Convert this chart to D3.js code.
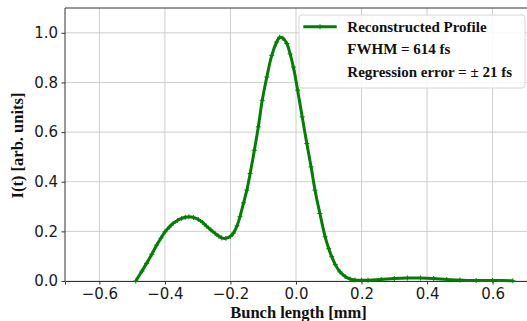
<!DOCTYPE html>
<html><head><meta charset="utf-8">
<script src="https://cdn.jsdelivr.net/npm/d3@7"></script>
<style>body{margin:0;background:#fff;}svg{display:block;}</style>
</head><body>
<svg id="chart" width="527" height="321"></svg>
<script>
// Data
const bunchLength = [-0.489,-0.470,-0.456,-0.440,-0.425,-0.412,-0.400,-0.387,-0.375,-0.362,-0.349,-0.338,-0.327,-0.313,-0.298,-0.285,-0.273,-0.260,-0.247,-0.236,-0.227,-0.214,-0.200,-0.191,-0.180,-0.171,-0.160,-0.150,-0.140,-0.127,-0.115,-0.103,-0.089,-0.074,-0.059,-0.050,-0.040,-0.028,-0.018,-0.008,0.005,0.019,0.033,0.046,0.058,0.073,0.089,0.100,0.109,0.120,0.134,0.150,0.165,0.180,0.200,0.220,0.260,0.300,0.340,0.380,0.420,0.460,0.500,0.550,0.600,0.662];
const intensity = [0.000,0.040,0.071,0.108,0.145,0.173,0.198,0.217,0.232,0.244,0.252,0.257,0.259,0.256,0.248,0.236,0.221,0.206,0.192,0.181,0.174,0.172,0.180,0.193,0.222,0.259,0.315,0.366,0.433,0.527,0.621,0.728,0.822,0.909,0.963,0.982,0.978,0.957,0.915,0.862,0.769,0.661,0.554,0.460,0.366,0.272,0.178,0.130,0.098,0.066,0.037,0.018,0.008,0.004,0.003,0.003,0.006,0.010,0.012,0.012,0.010,0.006,0.004,0.002,0.002,0.001];
const xTicks = [-0.6,-0.4,-0.2,0.0,0.2,0.4,0.6];
const yTicks = [0.0,0.2,0.4,0.6,0.8,1.0];
const legendLines = ["Reconstructed Profile","FWHM = 614 fs","Regression error = \u00b1 21 fs"];
const xLabel = "Bunch length [mm]";
const yLabel = "I(t) [arb. units]";

const svg = d3.select("#chart");
const L = 65, R = 527, T = 8, B = 281;
const x = d3.scaleLinear().domain([-0.705, 0.705]).range([L, R]);
const y = d3.scaleLinear().domain([0, 1.1]).range([B, T]);
const fmt = d3.format(".1f");
const green = "#008000";

// grid
const g = svg.append("g");
g.selectAll(".gx").data(xTicks).join("line")
  .attr("x1", d => x(d)).attr("x2", d => x(d)).attr("y1", T).attr("y2", B)
  .attr("stroke", "#c8c8c8").attr("stroke-width", 0.9);
g.selectAll(".gy").data(yTicks).join("line")
  .attr("y1", d => y(d)).attr("y2", d => y(d)).attr("x1", L).attr("x2", R)
  .attr("stroke", "#c8c8c8").attr("stroke-width", 0.9);

// axes
const xAxis = svg.append("g").attr("transform", `translate(0,${B})`)
  .call(d3.axisBottom(x).tickValues(xTicks).tickFormat(fmt).tickSizeOuter(0).tickSize(3.5).tickPadding(3.5));
const yAxis = svg.append("g").attr("transform", `translate(${L},0)`)
  .call(d3.axisLeft(y).tickValues(yTicks).tickFormat(fmt).tickSizeOuter(0).tickSize(3.5).tickPadding(3.5));
[xAxis, yAxis].forEach(a => {
  a.selectAll("text").attr("font-family", "DejaVu Sans").attr("font-size", 15).attr("fill", "#1a1a1a");
  a.selectAll("line").attr("stroke", "#333");
  a.select(".domain").attr("stroke", "#333").attr("stroke-width", 1);
});
// top spine
svg.append("line").attr("x1", L).attr("x2", R).attr("y1", T).attr("y2", T).attr("stroke", "#333").attr("stroke-width", 1);
yAxis.select(".domain").attr("d", `M0,${T}V${B}`);

// curve
const pts = bunchLength.map((v, i) => [v, intensity[i]]);
svg.append("path").datum(pts)
  .attr("fill", "none").attr("stroke", green).attr("stroke-width", 3)
  .attr("stroke-linejoin", "round")
  .attr("d", d3.line().x(d => x(d[0])).y(d => y(d[1])).curve(d3.curveCatmullRom));
svg.append("g").selectAll("path").data(pts).join("path")
  .attr("transform", d => `translate(${x(d[0])},${y(d[1])})`)
  .attr("d", "M-2.5,0H2.5M0,-2.5V2.5").attr("stroke", green).attr("stroke-width", 1);

// axis labels
svg.append("text").attr("x", 298.5).attr("y", 318).attr("text-anchor", "middle")
  .attr("font-family", "Liberation Serif").attr("font-weight", "bold").attr("font-size", 16.5)
  .attr("fill", "#111").text(xLabel);
svg.append("text").attr("transform", "translate(22.7,145.5) rotate(-90)").attr("text-anchor", "middle")
  .attr("font-family", "Liberation Serif").attr("font-weight", "bold").attr("font-size", 16.5)
  .attr("fill", "#111").text(yLabel);

// legend
const lg = svg.append("g");
lg.append("rect").attr("x", 299).attr("y", 15).attr("width", 226).attr("height", 73).attr("rx", 3)
  .attr("fill", "#fff").attr("fill-opacity", 0.85).attr("stroke", "#d6d6d6").attr("stroke-width", 1);
lg.append("line").attr("x1", 303.3).attr("x2", 336.7).attr("y1", 26.7).attr("y2", 26.7)
  .attr("stroke", green).attr("stroke-width", 3);
lg.append("path").attr("transform", "translate(320,26.7)").attr("d", "M-2.5,0H2.5M0,-2.5V2.5")
  .attr("stroke", green).attr("stroke-width", 1);
const rowY = [26.7, 49.3, 72.3];
lg.selectAll("text.lt").data(legendLines).join("text")
  .attr("x", 347.3).attr("y", (d, i) => rowY[i]).attr("dy", "0.33em")
  .attr("font-family", "Liberation Serif").attr("font-weight", "bold").attr("font-size", 15)
  .attr("fill", "#111").text(d => d);
</script>
</body></html>
